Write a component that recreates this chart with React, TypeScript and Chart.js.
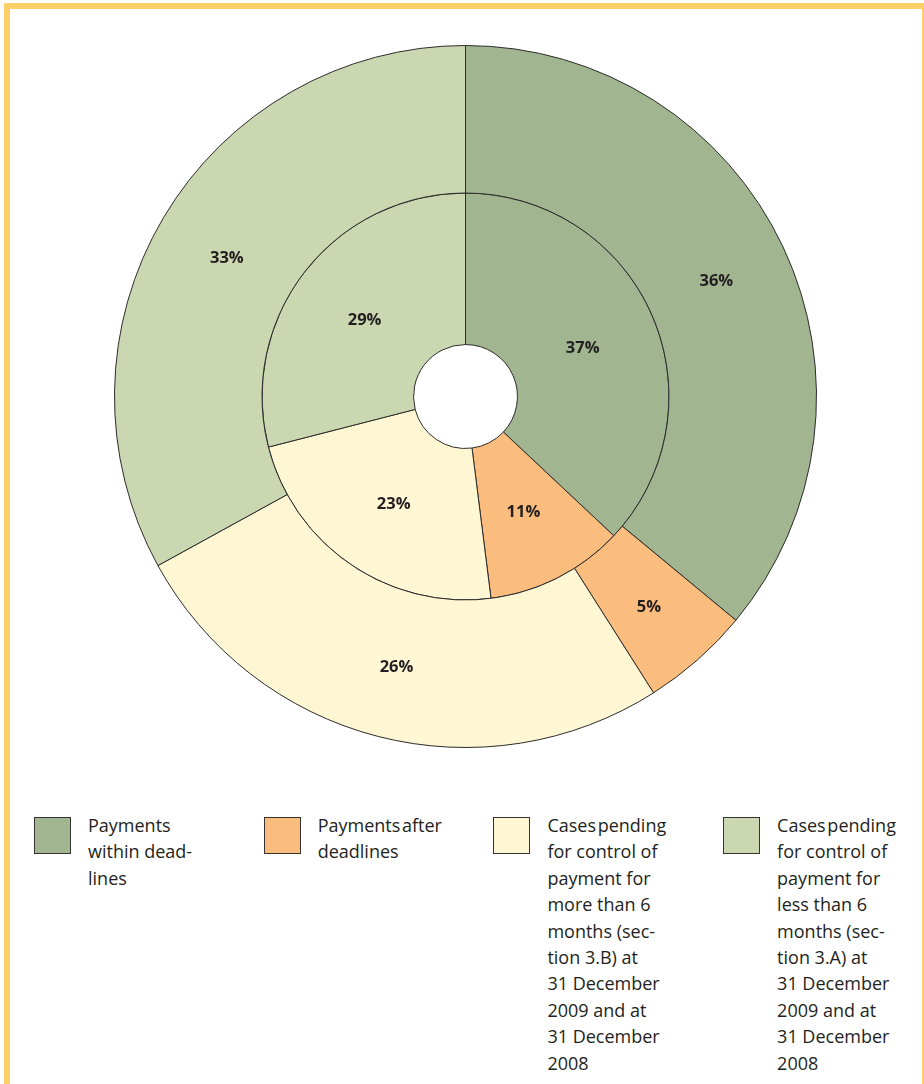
import React, { useEffect, useRef } from "react";
import { Chart, registerables } from "chart.js";

Chart.register(...registerables);

const categories = [
  "Payments within deadlines",
  "Payments after deadlines",
  "Cases pending for control of payment for more than 6 months (section 3.B) at 31 December 2009 and at 31 December 2008",
  "Cases pending for control of payment for less than 6 months (section 3.A) at 31 December 2009 and at 31 December 2008",
];
const outerValues = [36, 5, 26, 33];
const innerValues = [37, 11, 23, 29];
const colors = ["#A1B590", "#FBBD7D", "#FFF6D3", "#CBD7B0"];
const legendLines = [
  ["Payments", "within dead-", "lines"],
  ["Payments after", "deadlines"],
  ["Cases pending", "for control of", "payment for", "more than 6", "months (sec-", "tion 3.B) at", "31 December", "2009 and at", "31 December", "2008"],
  ["Cases pending", "for control of", "payment for", "less than 6", "months (sec-", "tion 3.A) at", "31 December", "2009 and at", "31 December", "2008"],
];
const tightLines = ["Payments after", "Cases pending"];

const FONT = "'Open Sans', 'Noto Sans', sans-serif";

const labelPlugin = {
  id: "segLabels",
  afterDatasetsDraw(chart: any) {
    const ctx = chart.ctx;
    ctx.save();
    ctx.font = `bold 16.5px ${FONT}`;
    ctx.fillStyle = "#231F20";
    ctx.textAlign = "center";
    ctx.textBaseline = "middle";
    chart.data.datasets.forEach((ds: any, di: number) => {
      const meta = chart.getDatasetMeta(di);
      meta.data.forEach((arc: any, i: number) => {
        const p = arc.tooltipPosition();
        ctx.fillText(`${ds.data[i]}%`, p.x, p.y + 2.5);
      });
    });
    ctx.restore();
  },
};

export default function App() {
  const ref = useRef<HTMLCanvasElement | null>(null);
  useEffect(() => {
    if (!ref.current) return;
    const chart = new Chart(ref.current, {
      type: "doughnut",
      data: {
        labels: categories,
        datasets: [
          {
            data: outerValues,
            backgroundColor: colors,
            borderColor: "#2b2b2b",
            borderWidth: 1,
            hoverOffset: 0,
            weight: 147,
          },
          {
            data: innerValues,
            backgroundColor: colors,
            borderColor: "#2b2b2b",
            borderWidth: 1,
            hoverOffset: 0,
            weight: 151,
          },
        ],
      },
      options: {
        responsive: false,
        animation: false,
        cutout: "14.8%",
        layout: { padding: 0 },
        plugins: {
          legend: { display: false },
          tooltip: { enabled: false },
        },
        events: [],
      },
      plugins: [labelPlugin],
    });
    return () => chart.destroy();
  }, []);

  return (
    <div style={{ position: "absolute", left: 0, top: 0, width: 924, height: 1084, overflow: "hidden", background: "#fff", fontFamily: FONT }}>
      <div style={{ position: "absolute", left: 4, top: 3, width: 912, height: 1200, border: "6px solid #FFCF6A" }} />
      <canvas ref={ref} width={703} height={703} style={{ position: "absolute", left: 113.5, top: 44.5, width: 703, height: 703 }} />
      {categories.map((c, i) => (
        <div key={i}>
          <div style={{ position: "absolute", left: 34 + i * 229.7, top: 817, width: 35, height: 35, background: colors[i], border: "1.5px solid #333" }} />
          <div style={{ position: "absolute", left: 88 + i * 229.7, top: 812, fontSize: 18, lineHeight: "26.4px", color: "#231F20", whiteSpace: "pre" }}>
            {legendLines[i].map((ln, j) => (
              <div key={j} style={{ wordSpacing: tightLines.includes(ln) ? -3 : 0 }}>{ln}</div>
            ))}
          </div>
        </div>
      ))}
    </div>
  );
}
